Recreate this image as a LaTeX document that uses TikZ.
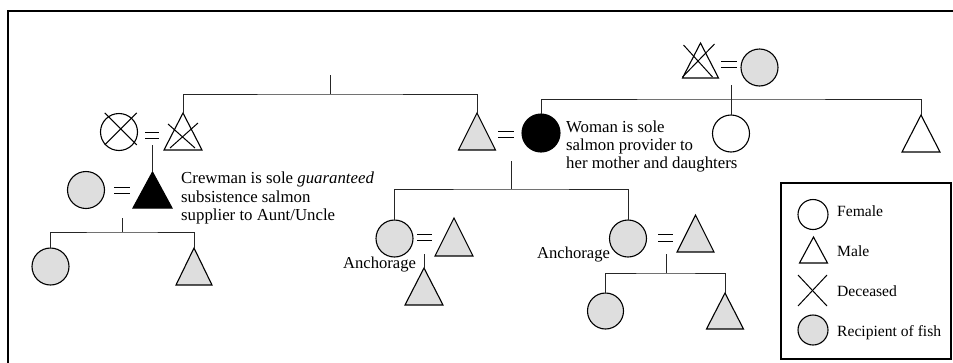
\documentclass[tikz,border=0pt]{standalone}
\usepackage{fontspec}
\setmainfont{Liberation Serif}
\usetikzlibrary{shapes.geometric,calc}
\definecolor{fishgray}{RGB}{222,222,222}
\begin{document}
\begin{tikzpicture}[x=1pt,y=-1pt,
  shp/.style={draw=black,line width=1.1pt,inner sep=0pt,outer sep=0pt},
  circ/.style={shp,circle,minimum size=#1},
  circ/.default=37pt,
  tri/.style={shp,isosceles triangle,shape border rotate=90,isosceles triangle stretches,minimum width=38pt,minimum height=37pt,anchor=apex},
  conn/.style={line width=0.9pt,draw=black!85},
  eqs/.style={line width=0.9pt,draw=black},
  xline/.style={line width=1pt,draw=black},
  lbl/.style={font=\fontsize{15.6}{18.2}\selectfont,inner sep=0pt,anchor=base west},
  place/.style={font=\fontsize{16.6}{18.2}\selectfont,inner sep=0pt,anchor=base west},
  note/.style={font=\fontsize{16.8}{18.3}\selectfont,inner sep=0pt,anchor=north west,align=left}
]
\useasboundingbox (0,0) rectangle (953,362);
\draw[line width=2pt] (8,363) -- (8,11) -- (954,11);

% top-left family
\coordinate (top1) at (330,75);
\coordinate (j1) at (330,94);
\node[circ,fill=white] (cc) at (119,132) {};
\draw[xline] ($(cc.center)+(1.7,-3.1)+(-16,-16)$) -- ($(cc.center)+(1.7,-3.1)+(16,16)$);
\draw[xline] ($(cc.center)+(1.7,-3.1)+(16,-16)$) -- ($(cc.center)+(1.7,-3.1)+(-16,16)$);
\node[tri,fill=white] (ct) at (183,113) {};
\draw[xline] ($(ct.apex)+(-15,11)$) -- ($(ct.apex)+(12,35)$);
\draw[xline] ($(ct.apex)+(15,10)$) -- ($(ct.apex)+(-13,35)$);
\node[tri,fill=fishgray,minimum width=37pt] (gt) at (477,113) {};
\draw[conn] (top1) -- (j1);
\draw[conn] (ct.apex) |- (j1) -| (gt.apex);
\draw[eqs] (145,132.5) -- (159,132.5) (145,138.5) -- (159,138.5);

% crewman family
\node[tri,fill=black,minimum width=39pt,minimum height=36pt] (bt) at (152.5,172) {};
\coordinate (m1) at (152.5,145);
\draw[conn] (m1) -- (bt.apex);
\node[circ,fill=fishgray] (gc1) at (86,190) {};
\draw[eqs] (114,187) -- (130,187) (114,193) -- (130,193);
\node[note] (crew) at (181,172) {Crewman is sole \textit{guaranteed}\\subsistence salmon\\supplier to Aunt/Uncle};
\coordinate (m2) at (122,218);
\coordinate (j2) at (122,232);
\node[circ,fill=fishgray] (c1) at (50.5,266.5) {};
\node[tri,fill=fishgray,minimum width=36pt] (t1) at (194,248) {};
\draw[conn] (m2) -- (j2);
\draw[conn] (c1.north) |- (j2) -| (t1.apex);

% woman
\node[circ=38pt,fill=black] (bc) at (541,133) {};
\draw[eqs] (498,131) -- (514,131) (498,137) -- (514,137);
\node[note] (woman) at (566,120.3) {Woman is sole\\salmon provider to\\her mother and daughters};

% top-right family
\node[tri,fill=white,minimum width=36pt,minimum height=35pt] (dt) at (700.5,43) {};
\draw[xline] ($(dt.apex)+(-17,2)$) -- ($(dt.apex)+(12,34)$);
\draw[xline] ($(dt.apex)+(14,1)$) -- ($(dt.apex)+(-18,34)$);
\node[circ,fill=fishgray] (gc2) at (759.5,67.5) {};
\draw[eqs] (721,61) -- (737,61) (721,67) -- (737,67);
\coordinate (m3) at (731,85);
\coordinate (j3) at (731,99);
\node[circ,fill=white] (wc) at (731,133.5) {};
\node[tri,fill=white] (rt) at (921,115) {};
\draw[conn] (m3) -- (wc.north);
\draw[conn] (bc.north) |- (j3) -| (rt.apex);

% middle family
\coordinate (m4) at (511,161);
\coordinate (j4) at (511,189);
\node[circ,fill=fishgray] (ac1) at (394.5,238.5) {};
\node[tri,fill=fishgray,minimum height=38pt] (at1) at (454,218) {};
\draw[eqs] (417,234) -- (432,234) (417,240) -- (432,240);
\coordinate (m5) at (424,254);
\node[tri,fill=fishgray] (lt) at (424,268) {};
\draw[conn] (m5) -- (lt.apex);
\node[place] (anc1) at (343,268.3) {Anchorage};
\node[circ,fill=fishgray] (ac2) at (628,238.5) {};
\node[tri,fill=fishgray,minimum width=37pt] (at2) at (695.5,215) {};
\draw[eqs] (658,234) -- (673,234) (658,241) -- (673,241);
\node[place] (anc2) at (537,258.3) {Anchorage};
\draw[conn] (m4) -- (j4);
\draw[conn] (ac1.north) |- (j4) -| (ac2.north);
\coordinate (m6) at (666,254);
\coordinate (j6) at (666,273);
\node[circ=36pt,fill=fishgray] (gc3) at (605.5,311) {};
\node[tri,fill=fishgray,minimum width=37pt,minimum height=36pt] (gt3) at (725,293) {};
\draw[conn] (m6) -- (j6);
\draw[conn] (gc3.north) |- (j6) -| (gt3.apex);

% legend
\node[shp,draw,minimum width=170pt,minimum height=176pt,anchor=north west] (leg) at (781,183) {};
\node[circ=30pt,fill=white] (lc1) at (813,214.5) {};
\node[tri,fill=white,minimum width=28pt,minimum height=26pt] (lt1) at (813.5,237) {};
\coordinate (lx) at (812.5,290.5);
\draw[xline] ($(lx)+(-14.5,-15.5)$) -- ($(lx)+(14.5,15.5)$);
\draw[xline] ($(lx)+(14.5,-15.5)$) -- ($(lx)+(-14.5,15.5)$);
\node[circ=30pt,fill=fishgray] (lc2) at (813,330) {};
\node[lbl] (lf) at (837,216.5) {Female};
\node[lbl] (lm) at (837,256) {Male};
\node[lbl] (ld) at (837,296.5) {Deceased};
\node[lbl] (lr) at (837,336.5) {Recipient of fish};
\end{tikzpicture}
\end{document}
